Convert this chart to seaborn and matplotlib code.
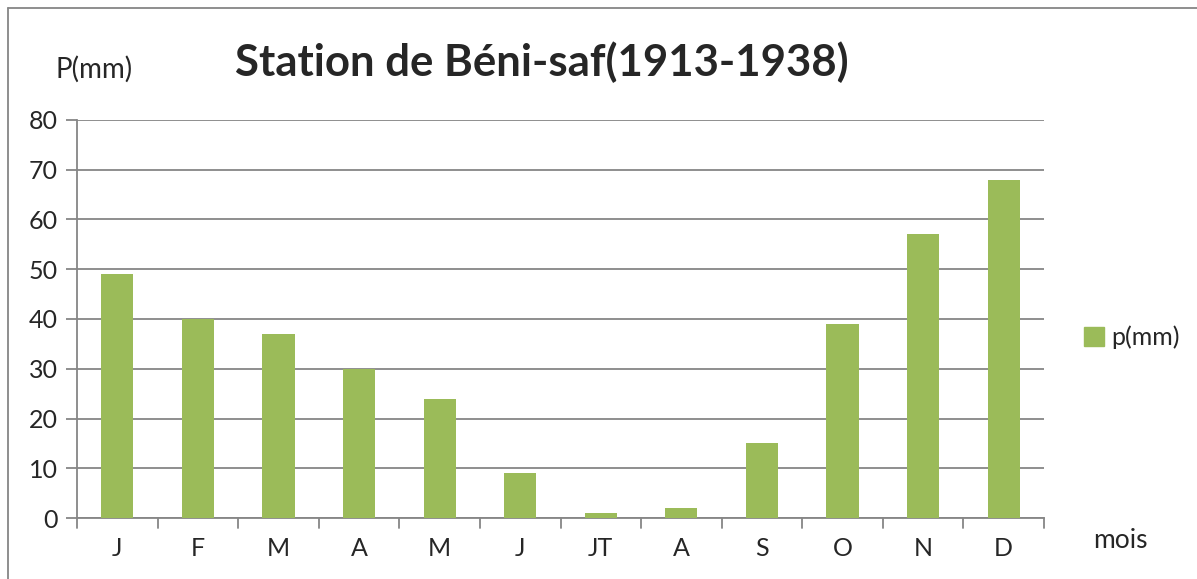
import matplotlib
matplotlib.use("Agg")

import matplotlib.pyplot as plt
import matplotlib.patches as mpatches
import matplotlib.lines as mlines
import numpy as np
import pandas as pd
import seaborn as sns

# monthly precipitation, Béni-saf station 1913-1938
mois = ["J", "F", "M", "A", "M ", "J ", "JT", "A ", "S", "O", "N", "D"]
tick_labels = ["J", "F", "M", "A", "M", "J", "JT", "A", "S", "O", "N", "D"]
pluie = [49, 40, 37, 30, 24, 9, 1, 2, 15, 39, 57, 68]
y_ticks = [0, 10, 20, 30, 40, 50, 60, 70, 80]

GREEN = "#9BBB59"
GRID = "#868686"

sns.set_style("white")
plt.rcParams["font.family"] = ["Lato", "DejaVu Sans"]

df = pd.DataFrame({"mois": mois, "pluie": pluie})

fig = plt.figure(figsize=(11.97, 5.79), dpi=100)
ax = fig.add_axes([77 / 1197, 1 - 518 / 579, (1044 - 77) / 1197, (518 - 120) / 579])

sns.barplot(data=df, x="mois", y="pluie", color=GREEN, width=0.4,
            saturation=1, ax=ax, zorder=3, linewidth=0)

ax.set_ylim(0, 80)
ax.set_xlim(-0.5, 11.5)
ax.set_yticks(y_ticks)
ax.set_yticklabels([str(v) for v in y_ticks], fontsize=18)
ax.set_xticks(range(12))
ax.set_xticklabels(tick_labels, fontsize=18)
ax.tick_params(axis="x", length=0, pad=14)
ax.tick_params(axis="y", length=8, width=1.3, color=GRID, pad=6, direction="out", left=True)

# category separators as outward ticks
for b in np.arange(-0.5, 12.0, 1.0):
    ax.add_line(mlines.Line2D([b, b], [0, -0.025], transform=ax.get_xaxis_transform(),
                              color=GRID, lw=1.3, clip_on=False))

ax.yaxis.grid(True, color=GRID, lw=1.3, zorder=0)
ax.set_axisbelow(True)
for s in ["top", "right"]:
    ax.spines[s].set_visible(False)
for s in ["left", "bottom"]:
    ax.spines[s].set_color(GRID)
    ax.spines[s].set_linewidth(1.3)

ax.set_xlabel("")
ax.set_ylabel("")

fig.text(55 / 1197, 1 - 69 / 579, "P(mm)", fontsize=20, va="center", ha="left")
fig.text(1093 / 1197, 1 - 540 / 579, "mois", fontsize=19, va="center", ha="left")
fig.text(542 / 1197, 1 - 62 / 579, "Station de Béni-saf(1913-1938)",
         fontsize=31.5, fontweight="bold", ha="center", va="center")

handle = mpatches.Patch(color=GREEN, label="p(mm)")
fig.legend(handles=[handle], loc="center left", bbox_to_anchor=(1084 / 1197, 1 - 337 / 579),
           frameon=False, fontsize=18, handlelength=0.8, handleheight=0.8,
           handletextpad=0.3, borderaxespad=0, borderpad=0)

# outer chart frame
fig.add_artist(mlines.Line2D([8 / 1197, 8 / 1197], [0, 1 - 8 / 579], color=GRID, lw=1.3))
fig.add_artist(mlines.Line2D([8 / 1197, 1], [1 - 8 / 579, 1 - 8 / 579], color=GRID, lw=1.3))

fig.savefig("out.png", dpi=100)
plt.close(fig)
